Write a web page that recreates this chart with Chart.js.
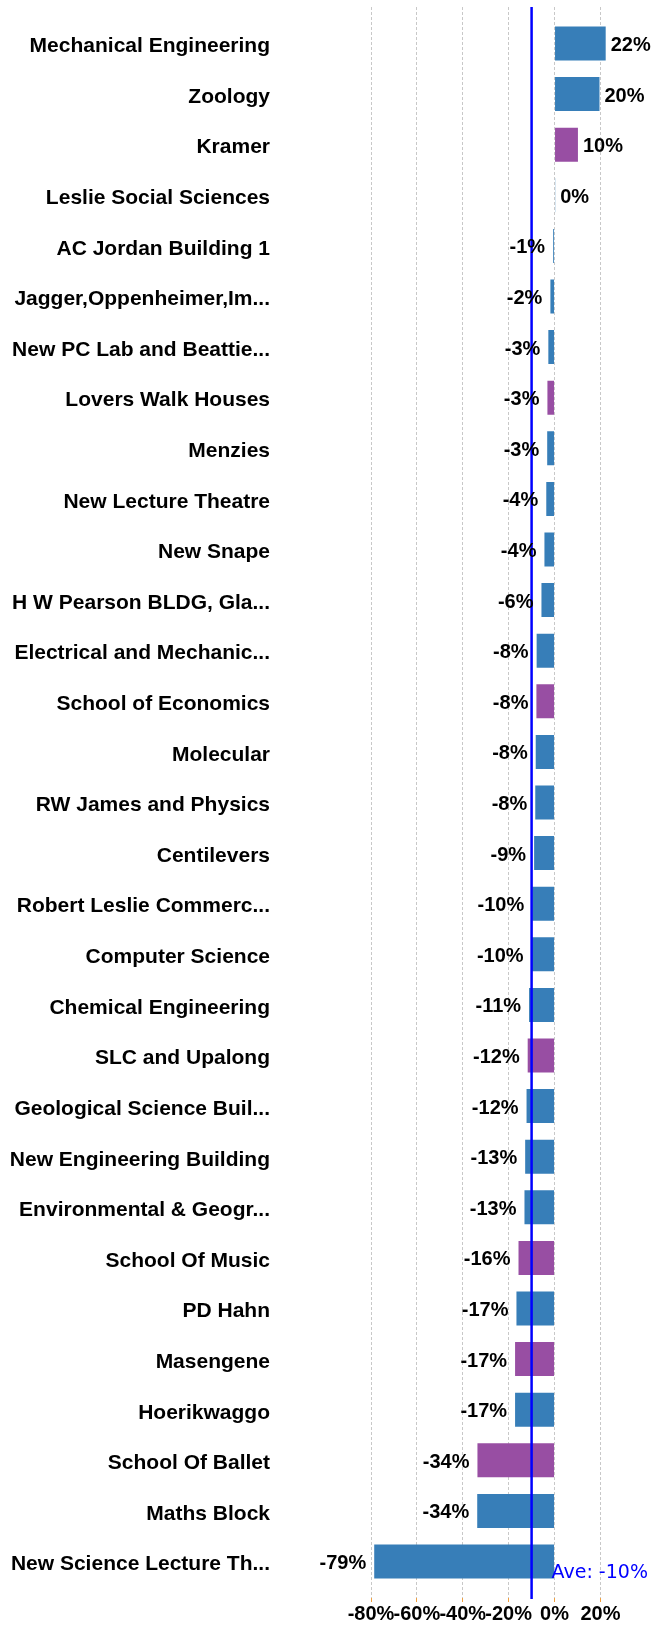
<!DOCTYPE html>
<html><head><meta charset="utf-8">
<script src="https://cdn.jsdelivr.net/npm/chart.js@4.4.1/dist/chart.umd.min.js"></script>
<style>html,body{margin:0;padding:0;background:#fff}canvas{display:block}</style>
</head><body>
<canvas id="c" width="671" height="1627"></canvas>
<script>
const categories = [
  'Mechanical Engineering','Zoology','Kramer','Leslie Social Sciences','AC Jordan Building 1',
  'Jagger,Oppenheimer,Im...','New PC Lab and Beattie...','Lovers Walk Houses','Menzies','New Lecture Theatre',
  'New Snape','H W Pearson BLDG, Gla...','Electrical and Mechanic...','School of Economics','Molecular',
  'RW James and Physics','Centilevers','Robert Leslie Commerc...','Computer Science','Chemical Engineering',
  'SLC and Upalong','Geological Science Buil...','New Engineering Building','Environmental & Geogr...','School Of Music',
  'PD Hahn','Masengene','Hoerikwaggo','School Of Ballet','Maths Block','New Science Lecture Th...'
];
const values = [
  22.3, 19.6, 10.2, 0.3, -0.6,
  -1.8, -2.7, -3.1, -3.2, -3.6,
  -4.4, -5.7, -7.8, -7.9, -8.2,
  -8.4, -8.9, -9.7, -10.0, -11.1,
  -11.7, -12.2, -12.8, -13.1, -15.7,
  -16.6, -17.2, -17.2, -33.6, -33.7, -78.6
];
const groups = [
  'A','A','B','A','A',
  'A','A','B','A','A',
  'A','A','A','B','A',
  'A','A','A','A','A',
  'B','A','A','A','B',
  'A','B','A','B','A','A'
];
const xTickValues = [-80, -60, -40, -20, 0, 20];
const averageValue = -10;
const averageLabel = 'Ave: -10%';

const groupColors = { A: '#377EB8', B: '#984EA3' };
const FONT = '"Liberation Sans", Arial, sans-serif';

const overlay = {
  id: 'overlay',
  afterDatasetsDraw(chart) {
    const { ctx, chartArea, scales: { x } } = chart;
    const ax = x.getPixelForValue(averageValue);
    ctx.save();
    ctx.strokeStyle = '#0000ff';
    ctx.lineWidth = 2.5;
    ctx.beginPath();
    ctx.moveTo(ax, chartArea.top);
    ctx.lineTo(ax, chartArea.bottom + 1);
    ctx.stroke();
    ctx.font = '19px "DejaVu Sans", Verdana, sans-serif';
    ctx.fillStyle = '#0000ff';
    ctx.textAlign = 'left';
    ctx.textBaseline = 'middle';
    ctx.fillText(averageLabel, ax + 20, chartArea.bottom - 25);
    const meta = chart.getDatasetMeta(0);
    ctx.font = 'bold 20px ' + FONT;
    ctx.fillStyle = '#000';
    meta.data.forEach((bar, i) => {
      const v = values[i];
      const txt = Math.round(v) + '%';
      if (v >= 0) { ctx.textAlign = 'left'; ctx.fillText(txt, bar.x + 5, bar.y + 2); }
      else { ctx.textAlign = 'right'; ctx.fillText(txt, bar.x - 8, bar.y + 2); }
    });
    ctx.restore();
  }
};

new Chart(document.getElementById('c'), {
  type: 'bar',
  data: {
    datasets: [{
      data: values.map((v, i) => ({ x: v, y: i })),
      backgroundColor: groups.map(g => groupColors[g]),
      borderWidth: 0,
      barPercentage: 0.672,
      categoryPercentage: 1
    }]
  },
  options: {
    indexAxis: 'y',
    responsive: false,
    animation: false,
    layout: { padding: { left: 0, right: 24.7, top: 7, bottom: 0 } },
    plugins: { legend: { display: false }, tooltip: { enabled: false } },
    scales: {
      x: {
        type: 'linear',
        min: -80, max: 40,
        afterBuildTicks: s => { s.ticks = xTickValues.map(v => ({ value: v })); },
        afterFit: s => { s.height = 29; },
        ticks: { callback: v => v + '%', autoSkip: false, maxRotation: 0, padding: 0, color: '#000', font: { family: FONT, size: 20, weight: 'bold' } },
        grid: { color: '#c8c8c8', lineWidth: 1, drawTicks: true, tickLength: 4, tickColor: '#f0a040', tickBorderDash: [] },
        border: { display: false, dash: [3, 2] }
      },
      y: {
        type: 'linear',
        reverse: true,
        offset: false,
        min: -0.721, max: 30.721,
        afterBuildTicks: s => { s.ticks = categories.map((c, i) => ({ value: i })); },
        afterFit: s => { s.width = 371; s.paddingTop = 0; s.paddingBottom = 0; },
        ticks: { callback: v => categories[v], autoSkip: false, padding: 101, labelOffset: 3, color: '#000', font: { family: FONT, size: 21, weight: 'bold' } },
        grid: { display: false, drawTicks: false, offset: false },
        border: { display: false }
      }
    }
  },
  plugins: [overlay]
});
</script>
</body></html>
